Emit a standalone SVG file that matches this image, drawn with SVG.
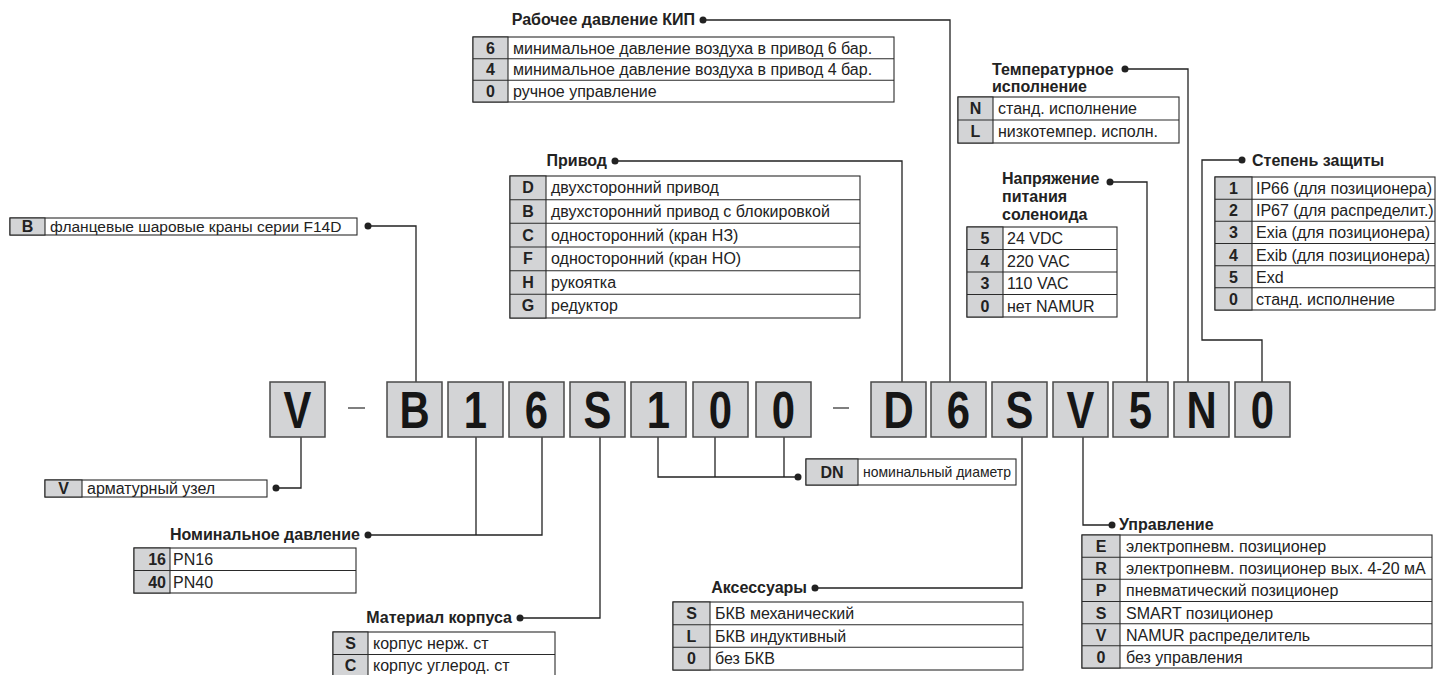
<svg xmlns="http://www.w3.org/2000/svg" width="1438" height="675" viewBox="0 0 1438 675">
<style>
.bg{fill:#fff}
.box{fill:#d3d4d6;stroke:#4a4a4a;stroke-width:1.5}
.code{font-family:"Liberation Sans",Arial,sans-serif;font-weight:bold;font-size:51px;fill:#161616;text-anchor:middle}
.tw{fill:#fff;stroke:#2a2a2a;stroke-width:1.1}
.tg{fill:#d3d4d6;stroke:#2a2a2a;stroke-width:1.1}
.rl{stroke:#2a2a2a;stroke-width:1.1;fill:none}
.k{font-family:"Liberation Sans",Arial,sans-serif;font-weight:bold;font-size:16px;fill:#222;text-anchor:middle}
.kr{font-family:"Liberation Sans",Arial,sans-serif;font-weight:bold;font-size:16px;fill:#222;text-anchor:end}
.v{font-family:"Liberation Sans",Arial,sans-serif;font-size:16px;fill:#222}
.h{font-family:"Liberation Sans",Arial,sans-serif;font-weight:bold;font-size:16px;fill:#222}
.he{font-family:"Liberation Sans",Arial,sans-serif;font-weight:bold;font-size:16px;fill:#222;text-anchor:end}
.c{stroke:#222;stroke-width:1.3;fill:none}
.dot{fill:#222}
.dash{stroke:#555;stroke-width:1.5}
</style>
<rect class="bg" x="0" y="0" width="1438" height="675"/>

<g id="connectors">
  <polyline class="c" points="703,20 950,20 950,382"/>
  <polyline class="c" points="615,161 902,161 902,382"/>
  <polyline class="c" points="1125,69 1188,69 1188,382"/>
  <polyline class="c" points="1110,182 1147,182 1147,382"/>
  <polyline class="c" points="1242,160 1202,160 1202,340 1262,340 1262,382"/>
  <polyline class="c" points="368,226 416,226 416,382"/>
  <polyline class="c" points="276,488 301,488 301,437"/>
  <polyline class="c" points="368,535 542,535 542,437"/>
  <polyline class="c" points="476,535 476,437"/>
  <polyline class="c" points="520,618 600,618 600,437"/>
  <polyline class="c" points="658,437 658,477 798,477"/>
  <polyline class="c" points="715,437 715,477"/>
  <polyline class="c" points="784,437 784,477"/>
  <polyline class="c" points="815,588 1022,588 1022,437"/>
  <polyline class="c" points="1083,437 1083,525 1112,525"/>
  <circle class="dot" cx="703" cy="20" r="3.5"/>
  <circle class="dot" cx="615" cy="161" r="3.5"/>
  <circle class="dot" cx="1125" cy="69" r="3.5"/>
  <circle class="dot" cx="1110" cy="182" r="3.5"/>
  <circle class="dot" cx="1242" cy="160" r="3.5"/>
  <circle class="dot" cx="368" cy="226" r="3.5"/>
  <circle class="dot" cx="276" cy="488" r="3.5"/>
  <circle class="dot" cx="368" cy="535" r="3.5"/>
  <circle class="dot" cx="520" cy="618" r="3.5"/>
  <circle class="dot" cx="798" cy="477" r="3.5"/>
  <circle class="dot" cx="815" cy="588" r="3.5"/>
  <circle class="dot" cx="1112" cy="525" r="3.5"/>
</g>

<g id="code">
  <line class="dash" x1="348" y1="408" x2="365" y2="408"/>
  <line class="dash" x1="833" y1="408" x2="849" y2="408"/>
  <g id="c-V"><rect class="box" x="270" y="382" width="55" height="55"/><text class="code" transform="translate(297.5,428) scale(0.82,1)">V</text></g>
  <g id="c-B"><rect class="box" x="387" y="382" width="55" height="55"/><text class="code" transform="translate(414.5,428) scale(0.82,1)">B</text></g>
  <g id="c-1a"><rect class="box" x="448" y="382" width="55" height="55"/><text class="code" transform="translate(475.5,428) scale(0.82,1)">1</text></g>
  <g id="c-6a"><rect class="box" x="509" y="382" width="55" height="55"/><text class="code" transform="translate(536.5,428) scale(0.82,1)">6</text></g>
  <g id="c-Sa"><rect class="box" x="570" y="382" width="55" height="55"/><text class="code" transform="translate(597.5,428) scale(0.82,1)">S</text></g>
  <g id="c-1b"><rect class="box" x="631" y="382" width="55" height="55"/><text class="code" transform="translate(658.5,428) scale(0.82,1)">1</text></g>
  <g id="c-0a"><rect class="box" x="693" y="382" width="55" height="55"/><text class="code" transform="translate(720.5,428) scale(0.82,1)">0</text></g>
  <g id="c-0b"><rect class="box" x="756" y="382" width="55" height="55"/><text class="code" transform="translate(783.5,428) scale(0.82,1)">0</text></g>
  <g id="c-D"><rect class="box" x="871" y="382" width="55" height="55"/><text class="code" transform="translate(898.5,428) scale(0.82,1)">D</text></g>
  <g id="c-6b"><rect class="box" x="931" y="382" width="55" height="55"/><text class="code" transform="translate(958.5,428) scale(0.82,1)">6</text></g>
  <g id="c-Sb"><rect class="box" x="992" y="382" width="55" height="55"/><text class="code" transform="translate(1019.5,428) scale(0.82,1)">S</text></g>
  <g id="c-Vb"><rect class="box" x="1053" y="382" width="55" height="55"/><text class="code" transform="translate(1080.5,428) scale(0.82,1)">V</text></g>
  <g id="c-5"><rect class="box" x="1113" y="382" width="55" height="55"/><text class="code" transform="translate(1140.5,428) scale(0.82,1)">5</text></g>
  <g id="c-N"><rect class="box" x="1174" y="382" width="55" height="55"/><text class="code" transform="translate(1201.5,428) scale(0.82,1)">N</text></g>
  <g id="c-0c"><rect class="box" x="1235" y="382" width="55" height="55"/><text class="code" transform="translate(1262.5,428) scale(0.82,1)">0</text></g>
</g>

<g id="t-kip">
  <text class="he" x="695" y="25">Рабочее давление КИП</text>
  <rect class="tw" x="473" y="37" width="421" height="65"/>
  <rect class="tg" x="473" y="37" width="35" height="65"/>
  <path class="rl" d="M473 58.7H894M473 80.3H894"/>
  <text class="k" x="490.5" y="53.5">6</text><text class="v" x="513" y="53.5">минимальное давление воздуха в привод 6 бар.</text>
  <text class="k" x="490.5" y="75">4</text><text class="v" x="513" y="75">минимальное давление воздуха в привод 4 бар.</text>
  <text class="k" x="490.5" y="96.5">0</text><text class="v" x="513" y="96.5">ручное управление</text>
</g>

<g id="t-privod">
  <text class="he" x="607" y="166">Привод</text>
  <rect class="tw" x="510" y="176" width="350" height="142"/>
  <rect class="tg" x="510" y="176" width="36" height="142"/>
  <path class="rl" d="M510 199.7H860M510 223.3H860M510 247H860M510 270.7H860M510 294.3H860"/>
  <text class="k" x="528" y="193">D</text><text class="v" x="551" y="193">двухсторонний привод</text>
  <text class="k" x="528" y="216.5">B</text><text class="v" x="551" y="216.5">двухсторонний привод с блокировкой</text>
  <text class="k" x="528" y="240.5">C</text><text class="v" x="551" y="240.5">односторонний (кран НЗ)</text>
  <text class="k" x="528" y="264">F</text><text class="v" x="551" y="264">односторонний (кран НО)</text>
  <text class="k" x="528" y="287.5">H</text><text class="v" x="551" y="287.5">рукоятка</text>
  <text class="k" x="528" y="311">G</text><text class="v" x="551" y="311">редуктор</text>
</g>

<g id="t-temp">
  <text class="h" x="992" y="75">Температурное</text>
  <text class="h" x="992" y="92">исполнение</text>
  <rect class="tw" x="958" y="97" width="221" height="46"/>
  <rect class="tg" x="958" y="97" width="35" height="46"/>
  <path class="rl" d="M958 120H1179"/>
  <text class="k" x="975.5" y="114">N</text><text class="v" x="998" y="114">станд. исполнение</text>
  <text class="k" x="975.5" y="137">L</text><text class="v" x="998" y="137">низкотемпер. исполн.</text>
</g>

<g id="t-volt">
  <text class="h" x="1002" y="184">Напряжение</text>
  <text class="h" x="1002" y="202">питания</text>
  <text class="h" x="1002" y="220">соленоида</text>
  <rect class="tw" x="967" y="227" width="150" height="90"/>
  <rect class="tg" x="967" y="227" width="36" height="90"/>
  <path class="rl" d="M967 249.5H1117M967 272H1117M967 294.5H1117"/>
  <text class="k" x="985" y="244">5</text><text class="v" x="1007" y="244">24 VDC</text>
  <text class="k" x="985" y="266.5">4</text><text class="v" x="1007" y="266.5">220 VAC</text>
  <text class="k" x="985" y="289">3</text><text class="v" x="1007" y="289">110 VAC</text>
  <text class="k" x="985" y="311.5">0</text><text class="v" x="1007" y="311.5">нет NAMUR</text>
</g>

<g id="t-ip">
  <text class="h" x="1252" y="166">Степень защиты</text>
  <rect class="tw" x="1215" y="177" width="220" height="133"/>
  <rect class="tg" x="1215" y="177" width="37" height="133"/>
  <path class="rl" d="M1215 199.2H1435M1215 221.3H1435M1215 243.5H1435M1215 265.7H1435M1215 287.8H1435"/>
  <text class="k" x="1233.5" y="194">1</text><text class="v" x="1256" y="194">IP66 (для позиционера)</text>
  <text class="k" x="1233.5" y="216">2</text><text class="v" x="1256" y="216">IP67 (для распределит.)</text>
  <text class="k" x="1233.5" y="238">3</text><text class="v" x="1256" y="238">Exia (для позиционера)</text>
  <text class="k" x="1233.5" y="260.5">4</text><text class="v" x="1256" y="260.5">Exib (для позиционера)</text>
  <text class="k" x="1233.5" y="282.5">5</text><text class="v" x="1256" y="282.5">Exd</text>
  <text class="k" x="1233.5" y="304.5">0</text><text class="v" x="1256" y="304.5">станд. исполнение</text>
</g>

<g id="t-B">
  <rect class="tw" x="10" y="218" width="347" height="17"/>
  <rect class="tg" x="10" y="218" width="35" height="17"/>
  <text class="k" x="27.5" y="232">B</text><text class="v" x="50" y="232" style="font-size:15.5px">фланцевые шаровые краны серии F14D</text>
</g>

<g id="t-V">
  <rect class="tw" x="45" y="480" width="222" height="17"/>
  <rect class="tg" x="45" y="480" width="37" height="17"/>
  <text class="k" x="63.5" y="494">V</text><text class="v" x="87" y="494">арматурный узел</text>
</g>

<g id="t-pn">
  <text class="he" x="360" y="540">Номинальное давление</text>
  <rect class="tw" x="134" y="548" width="222" height="45"/>
  <rect class="tg" x="134" y="548" width="36" height="45"/>
  <path class="rl" d="M134 570.5H356"/>
  <text class="kr" x="166" y="565">16</text><text class="v" x="173" y="565">PN16</text>
  <text class="kr" x="166" y="587.5">40</text><text class="v" x="173" y="587.5">PN40</text>
</g>

<g id="t-mat">
  <text class="he" x="512" y="623">Материал корпуса</text>
  <rect class="tw" x="333" y="632" width="222" height="45"/>
  <rect class="tg" x="333" y="632" width="35" height="45"/>
  <path class="rl" d="M333 654.5H555"/>
  <text class="k" x="350.5" y="648.5">S</text><text class="v" x="373" y="648.5">корпус нерж. ст</text>
  <text class="k" x="350.5" y="671">C</text><text class="v" x="373" y="671">корпус углерод. ст</text>
</g>

<g id="t-acc">
  <text class="he" x="807" y="593">Аксессуары</text>
  <rect class="tw" x="673" y="602" width="350" height="68"/>
  <rect class="tg" x="673" y="602" width="37" height="68"/>
  <path class="rl" d="M673 624.7H1023M673 647.3H1023"/>
  <text class="k" x="691.5" y="619">S</text><text class="v" x="715" y="619">БКВ механический</text>
  <text class="k" x="691.5" y="641.5">L</text><text class="v" x="715" y="641.5">БКВ индуктивный</text>
  <text class="k" x="691.5" y="664">0</text><text class="v" x="715" y="664">без БКВ</text>
</g>

<g id="t-ctrl">
  <text class="h" x="1119" y="530">Управление</text>
  <rect class="tw" x="1082" y="535" width="350" height="133"/>
  <rect class="tg" x="1082" y="535" width="38" height="133"/>
  <path class="rl" d="M1082 557.2H1432M1082 579.3H1432M1082 601.5H1432M1082 623.7H1432M1082 645.8H1432"/>
  <text class="k" x="1101" y="552">E</text><text class="v" x="1126" y="552">электропневм. позиционер</text>
  <text class="k" x="1101" y="574">R</text><text class="v" x="1126" y="574">электропневм. позиционер вых. 4-20 мА</text>
  <text class="k" x="1101" y="596">P</text><text class="v" x="1126" y="596">пневматический позиционер</text>
  <text class="k" x="1101" y="618.5">S</text><text class="v" x="1126" y="618.5">SMART позиционер</text>
  <text class="k" x="1101" y="640.5">V</text><text class="v" x="1126" y="640.5">NAMUR распределитель</text>
  <text class="k" x="1101" y="662.5">0</text><text class="v" x="1126" y="662.5">без управления</text>
</g>

<g id="t-dn">
  <rect class="tw" x="806" y="459" width="210" height="26"/>
  <rect class="tg" x="806" y="459" width="52" height="26"/>
  <text class="k" x="832" y="477.5">DN</text>
  <text class="v" x="863" y="477" textLength="148" lengthAdjust="spacingAndGlyphs" style="font-size:15px">номинальный диаметр</text>
</g>
</svg>
